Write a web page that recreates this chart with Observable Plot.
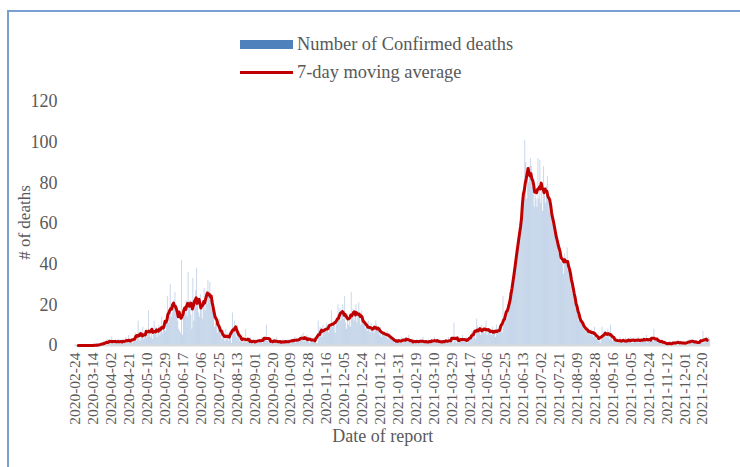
<!DOCTYPE html>
<html><head><meta charset="utf-8">
<script src="https://cdn.jsdelivr.net/npm/d3@7"></script>
<script src="https://cdn.jsdelivr.net/npm/@observablehq/plot@0.6"></script>
<style>
html,body{margin:0;padding:0;overflow:hidden;background:#fff;width:740px;height:467px;}
#frame{position:absolute;left:7px;top:10px;width:800px;height:520px;border:2px solid #7aa0d2;box-sizing:border-box;}
#chart{position:absolute;left:0;top:0;}
.lg{position:absolute;font-family:"Liberation Serif",serif;font-size:18.4px;line-height:18px;color:#595959;white-space:nowrap;}
.sw{position:absolute;}
</style></head>
<body>
<div id="frame"></div>
<div id="chart"></div>
<div class="sw" style="left:240px;top:40px;width:53px;height:9px;background:#4f81bd;"></div>
<div class="lg" style="left:297px;top:35px;">Number of Confirmed deaths</div>
<div class="sw" style="left:240px;top:71px;width:53px;height:3px;background:#c00000;"></div>
<div class="lg" style="left:297px;top:63px;">7-day moving average</div>
<script>
const startDate = "2020-02-24";
// daily confirmed deaths, 2020-02-24 .. 2020-12-31
const deaths2020 = [
0,0,0,0,0,0,0, 0,0,0,0,0,0,0, 0,0,0,0,0,0,0, 0,0,1,0,0,0,1,
0,1,2,1,0,2,1, 3,2,1,2,4,1,1, 2,3,1,2,3,1,2, 1,3,2,1,2,4,1,
2,5,1,3,2,1,4, 3,6,2,4,12,3,2, 7,4,9,3,5,6,4, 5,17,6,4,8,3,6,
12,6,9,4,7,10,5, 8,14,6,11,9,7,12, 24,11,14,30,14,16,18, 22,26,20,20,12,8,7,
6,42,5,14,18,15,22, 14,36,18,22,15,8,33, 12,18,27,38,20,16,14, 25,19,13,22,28,17,27,
20,32,26,31,22,18,19, 22,9,11,14,6,12,13, 7,5,3,4,6,2,8, 3,6,2,5,4,1,16,
9,12,7,4,10,6,5, 2,4,3,1,2,3,8, 1,3,2,1,4,2,1, 2,1,3,2,1,3,2,
3,2,4,1,2,3,3, 10,2,3,1,2,3,1, 2,3,1,2,4,1,2, 1,2,1,3,1,2,2,
2,1,3,2,1,2,3, 3,2,4,1,3,2,3, 4,2,5,3,6,2,3, 3,5,2,4,1,4,3,
2,3,2,4,1,1,12, 5,9,6,4,10,7,8, 7,11,8,6,10,9,17, 9,12,10,6,13,11,20,
14,18,12,16,20,13,24, 11,8,15,10,14,9,26, 13,18,12,16,20,11,15, 21,14,10,17,12,13,11,
8,10,7,12
];
// daily confirmed deaths, 2021-01-01 .. 2021-12-28
const deaths2021 = [
9,6,11, 7,9,6,8,12,10,8, 8,5,9,4,7,6,6, 6,4,7,3,5,6,4,
3,2,4,1,2,3,2, 1,3,2,4,1,2,3, 3,4,2,3,5,1,2, 2,1,3,2,1,3,2,
1,2,3,1,2,4,1, 2,1,2,1,3,2,1, 3,2,1,4,2,3,2, 2,1,3,1,2,2,2,
1,3,2,2,4,1,2, 2,4,1,11,3,2,1, 3,2,4,2,3,5,2, 2,3,4,1,3,2,4,
5,7,4,8,6,3,13, 9,6,8,5,10,7,8, 6,9,12,5,7,8,6, 8,5,9,6,7,4,10,
6,8,7,9,7,6,24, 11,14,16,13,20,19,26, 22,27,30,35,38,42,48, 46,52,55,58,62,65,70,
74,101,90,72,86,80,88, 92,88,78,80,68,74,72, 68,92,72,91,70,80,66, 88,74,70,78,83,72,66,
71,68,63,60,57,55,52, 54,50,45,48,41,44,40, 35,45,43,40,48,37,40, 36,29,33,25,27,22,24,
18,15,12,16,11,13,10, 9,11,7,8,6,9,6, 7,5,8,6,4,9,6, 3,5,2,4,1,3,9,
4,7,5,6,4,8,5, 3,10,4,2,5,3,2, 2,3,1,2,4,2,2, 3,1,2,4,2,1,3,
2,4,3,1,3,2,3, 3,2,4,1,3,3,2, 2,4,3,2,5,1,3, 3,2,4,3,2,8,3,
3,2,1,3,2,2,3, 1,2,1,0,2,1,1, 0,1,2,1,0,1,2, 2,1,1,2,1,2,1,
1,2,0,1,2,1,1, 2,3,2,1,3,2,2, 1,2,1,2,1,1,2, 2,7,1,3,2,3,2,
4,3
];
const tickLabels = [
"2020-02-24","2020-03-14","2020-04-02","2020-04-21","2020-05-10","2020-05-29","2020-06-17",
"2020-07-06","2020-07-25","2020-08-13","2020-09-01","2020-09-20","2020-10-09","2020-10-28",
"2020-11-16","2020-12-05","2020-12-24","2021-01-12","2021-01-31","2021-02-19","2021-03-10",
"2021-03-29","2021-04-17","2021-05-06","2021-05-25","2021-06-13","2021-07-02","2021-07-21",
"2021-08-09","2021-08-28","2021-09-16","2021-10-05","2021-10-24","2021-11-12","2021-12-01","2021-12-20"
];
const yTicks = [0,20,40,60,80,100,120];

const fmt = d3.utcFormat("%Y-%m-%d");
const start = d3.utcParse("%Y-%m-%d")(startDate);
const deaths = deaths2020.concat(deaths2021);
const data = deaths.map((v,i)=>({date: fmt(d3.utcDay.offset(start,i)), deaths: v}));

const plot = Plot.plot({
  width: 740, height: 467,
  marginLeft: 74.5, marginRight: 30, marginTop: 101, marginBottom: 122,
  style: {fontFamily: "Liberation Serif", fontSize: "18px", color: "#595959", background: "transparent", overflow: "visible"},
  x: {type: "band", domain: data.map(d=>d.date), padding: 0, ticks: tickLabels, tickRotate: -90, tickSize: 0, tickPadding: 7, label: null},
  y: {domain: [0,120], ticks: yTicks, tickSize: 0, tickPadding: 17.5, label: null},
  marks: [
    Plot.barY(data, {x: "date", y: "deaths", fill: "#4f81bd", fillOpacity: 0.32}),
    Plot.ruleY([0], {stroke: "#d9d9d9", strokeWidth: 2}),
    Plot.lineY(data, Plot.windowY({k: 7, anchor: "middle", strict: true}, {x: "date", y: "deaths", stroke: "#c00000", strokeWidth: 3})),
    Plot.text(["Date of report"], {frameAnchor: "bottom", dy: 96, dx: -10, fontSize: 18, fill: "#595959"}),
    Plot.text(["# of deaths"], {frameAnchor: "left", textAnchor: "middle", dx: -50, dy: -1, rotate: -90, fontSize: 17, fill: "#595959"})
  ]
});
document.getElementById("chart").appendChild(plot);
plot.querySelectorAll('g[aria-label^="x-axis"] text').forEach(t => t.setAttribute("font-size", "15.5"));
plot.querySelectorAll('g[aria-label^="x-axis"]').forEach(g => g.setAttribute("font-size", "15.5"));
</script>
</body></html>
